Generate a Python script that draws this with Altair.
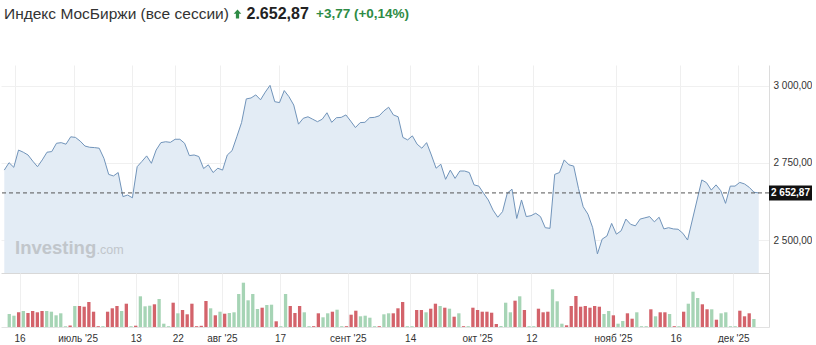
import json
import altair as alt
import pandas as pd

# ---------------- data ----------------
closes = [
    2727, 2751, 2736, 2792, 2785, 2776, 2756, 2738, 2760, 2785,
    2787, 2814, 2816, 2811, 2835, 2833, 2821, 2805, 2801, 2800,
    2798, 2765, 2713, 2708, 2719, 2641, 2646, 2637, 2738, 2755,
    2773, 2749, 2792, 2816, 2819, 2817, 2827, 2827, 2814, 2774,
    2776, 2771, 2732, 2744, 2719, 2733, 2727, 2776, 2790, 2835,
    2881, 2958, 2961, 2971, 2955, 2980, 3002, 2949, 2946, 2985,
    2965, 2938, 2876, 2895, 2900, 2892, 2884, 2892, 2913, 2882,
    2897, 2898, 2906, 2886, 2865, 2881, 2882, 2897, 2898, 2903,
    2919, 2931, 2906, 2900, 2833, 2825, 2838, 2811, 2798, 2816,
    2776, 2733, 2746, 2697, 2727, 2700, 2724, 2724, 2719, 2679,
    2675, 2652, 2630, 2597, 2574, 2592, 2652, 2665, 2570, 2630,
    2576, 2579, 2587, 2576, 2540, 2538, 2713, 2719, 2760, 2744,
    2740, 2668, 2608, 2584, 2540, 2455, 2503, 2513, 2554, 2519,
    2530, 2568, 2551, 2546, 2568, 2572, 2576, 2559, 2574, 2536,
    2540, 2536, 2535, 2522, 2500, 2565, 2630, 2695, 2686, 2662,
    2679, 2660, 2619, 2675, 2675, 2687, 2682, 2671, 2655, 2652.87,
]

volumes = [
    13, 11.3, 14.7, 16, 14, 16, 14.7, 16, 16, 15.3,
    11.7, 13.7, 0.8, 1.5, 21, 21, 20.3, 25, 15.3, 0.8,
    0.8, 15.3, 18.7, 21, 16, 23.3, 0.8, 1.3, 30.7, 20.7,
    21.3, 22.7, 28, 3.3, 0.8, 24.3, 13.7, 17, 12.7, 23.3,
    0.8, 1.2, 26, 18.7, 11.7, 15.3, 13.3, 14, 14.7, 33,
    44.3, 26.7, 33, 18, 19.3, 22, 22.3, 5.7, 0.8, 33,
    21, 14, 21, 14.7, 0.8, 0.8, 13.7, 9.7, 13.7, 15.3,
    17.3, 0.8, 0.8, 12.3, 16.3, 10.7, 11.3, 9.3, 0.8, 0.8,
    12.7, 13.7, 13.7, 18.7, 25, 0.8, 0.8, 17, 17, 14.7,
    18.3, 23.3, 21, 19.3, 18.3, 10.3, 13.7, 0.8, 0.8, 19.3,
    17, 15.3, 15.3, 14.3, 3, 1, 24.3, 14.7, 26.3, 30.7,
    17, 0.8, 0.8, 18.3, 14.7, 15.3, 37.7, 25.7, 3.3, 1.7,
    21, 31, 20.3, 21, 19.3, 21, 20.3, 13, 16, 11.7,
    3.3, 6, 13.7, 8.3, 14.7, 0.8, 0.8, 17.7, 10.7, 14.7,
    14.7, 13, 0.8, 0.8, 15.3, 23.3, 35.3, 29, 22.7, 17.7,
    17.7, 7.3, 13.7, 14.7, 0.8, 0.8, 16.3, 10.7, 13.7, 8,
]

vol_dir = list(
    "ggrgrrrrgg" "gggrgrrrrr" "grrrgrgrgg" "grgggrgrrr"
    "rrrgrgrggg" "ggggrggrgg" "rrrggrrggr" "ggrrrggggr"
    "ggrrrggrrg" "rrgrgrgrgr" "rrrrrgggrg" "rggrrrgggr"
    "rrrrrrrggr" "ggrrgggrgr" "rgrgrgggrr" "grggggrrrg"
)

tick_pos = [2.2, 14.6, 27, 36, 45.4, 57.8, 72.3, 85.6, 99.9, 111.5, 128.9, 142.3, 154.6]
tick_labels = ["16", "июль '25", "13", "22", "авг '25", "17", "сент '25",
               "14", "окт '25", "12", "нояб '25", "16", "дек '25"]
price_ticks = [2500, 2750, 3000]

title_name = "Индекс МосБиржи (все сессии)"
last_price = 2652.87
last_price_text = "2.652,87"
change_text = "+3,77 (+0,14%)"
box_text = "2 652,87"
wm_main = "Investing"
wm_dom = ".com"

# ---------------- chart ----------------
FONT = "Liberation Sans"
df = pd.DataFrame({
    "idx": list(range(len(closes))),
    "close": closes,
    "volume": volumes,
    "dir": vol_dir,
})

xscale = alt.Scale(domain=[-0.695, 161.16], nice=False, zero=False)
yscale = alt.Scale(domain=[2393, 3068], nice=False, zero=False)

label_expr = "{}[indexof({}, datum.value)]".format(
    json.dumps(tick_labels, ensure_ascii=False), json.dumps(tick_pos))
price_label_expr = "replace(replace(format(datum.value, ',.2f'), ',', ' '), '.', ',')"

x_axis_price = alt.Axis(values=tick_pos, labels=False, ticks=False, domain=True,
                        domainColor="#d8d8d8", grid=True, gridColor="#efefef")
y_axis_price = alt.Axis(orient="right", values=price_ticks, labelExpr=price_label_expr,
                        ticks=False, domain=True, domainColor="#dcdcdc", grid=True,
                        gridColor="#f0f0f0", labelPadding=4, labelFontSize=10,
                        labelColor="#333333", labelFont=FONT)


def px(field="idx"):
    return alt.X(f"{field}:Q", scale=xscale, title=None, axis=x_axis_price)


def py(field):
    return alt.Y(f"{field}:Q", scale=yscale, title=None, axis=y_axis_price)


base = alt.Chart(df)
area = base.mark_area(color="#e3ecf5", opacity=1, clip=True).encode(x=px(), y=py("close"))
line = base.mark_line(color="#7194ba", strokeWidth=1).encode(x=px(), y=py("close"))

pdf = pd.DataFrame({"p": [last_price], "lbl": [box_text]})
rule = alt.Chart(pdf).mark_rule(color="#555555", strokeDash=[4, 3], strokeWidth=1).encode(
    y=py("p"))
box = alt.Chart(pdf).mark_point(
    shape="M-1,-0.35 L1,-0.35 L1,0.35 L-1,0.35 Z", filled=True, size=1849,
    color="#111111", opacity=1, strokeWidth=0).encode(
    x=alt.value(789.5), y=py("p"))
box_lbl = alt.Chart(pdf).mark_text(color="white", fontSize=10, fontWeight="bold", font=FONT,
                                   align="center", baseline="middle").encode(
    x=alt.value(789.5), y=py("p"), text="lbl:N")

# header
HY = -51
hdr1 = alt.Chart(pd.DataFrame({"t": [title_name]})).mark_text(
    align="left", baseline="middle", fontSize=15.5, color="#333333", font=FONT).encode(
    x=alt.value(3), y=alt.value(HY), text="t:N")
arrow = alt.Chart(pd.DataFrame({"t": [1]})).mark_point(
    shape="M0,-1 L0.85,-0.05 L0.36,-0.05 L0.36,1 L-0.36,1 L-0.36,-0.05 L-0.85,-0.05 Z",
    filled=True, size=81, color="#2e8b45", opacity=1, strokeWidth=0).encode(
    x=alt.value(236.5), y=alt.value(HY))
hdr2 = alt.Chart(pd.DataFrame({"t": [last_price_text]})).mark_text(
    align="left", baseline="middle", fontSize=16, fontWeight="bold", color="#222222", font=FONT).encode(
    x=alt.value(245.5), y=alt.value(HY), text="t:N")
hdr3 = alt.Chart(pd.DataFrame({"t": [change_text]})).mark_text(
    align="left", baseline="middle", fontSize=13.5, fontWeight="bold", color="#2e8b45", font=FONT).encode(
    x=alt.value(315), y=alt.value(HY), text="t:N")

# watermark
wm1 = alt.Chart(pd.DataFrame({"t": [wm_main]})).mark_text(
    align="left", baseline="middle", fontSize=18.5, fontWeight="bold", color="#c1c6cb", font=FONT).encode(
    x=alt.value(14), y=alt.value(183), text="t:N")
wm2 = alt.Chart(pd.DataFrame({"t": [wm_dom]})).mark_text(
    align="left", baseline="middle", fontSize=12.5, color="#c1c6cb", font=FONT).encode(
    x=alt.value(95.5), y=alt.value(185), text="t:N")

price = alt.layer(area, line, rule, wm1, wm2, box, box_lbl, hdr1, arrow, hdr2, hdr3).properties(
    width=768, height=208)

volume = alt.Chart(df).mark_bar(size=3.3).encode(
    x=alt.X("idx:Q", scale=xscale, title=None,
            axis=alt.Axis(values=tick_pos, labelExpr=label_expr, ticks=False, domain=True,
                          domainColor="#e2e2e2", grid=True, gridColor="#efefef",
                          labelFontSize=10, labelColor="#333333", labelPadding=6,
                          labelFlush=False, labelOverlap=False, labelFont=FONT)),
    y=alt.Y("volume:Q", scale=alt.Scale(domain=[0, 54], nice=False), title=None,
            axis=alt.Axis(orient="right", labels=False, ticks=False, grid=False,
                          domain=True, domainColor="#dcdcdc")),
    color=alt.Color("dir:N", scale=alt.Scale(domain=["g", "r"], range=["#a6d4b5", "#d3636b"]),
                    legend=None),
).properties(width=768, height=54)

chart = alt.vconcat(price, volume, spacing=0).properties(
    padding={"left": 0, "top": 6, "right": 0, "bottom": 0},
    background="white",
).configure_view(stroke=None)

chart.save("out.html", embed_options={"renderer": "svg", "actions": False})
